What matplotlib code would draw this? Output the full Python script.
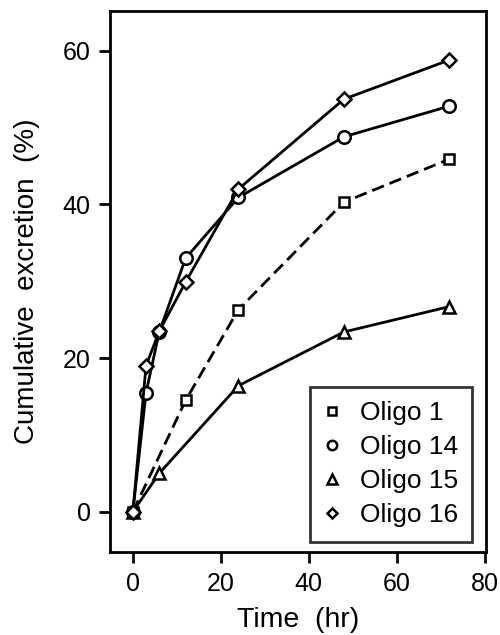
import matplotlib
matplotlib.use("Agg")
import matplotlib.pyplot as plt

plt.rcParams['font.family'] = ['Liberation Sans', 'DejaVu Sans']

t_o1 = [0, 12, 24, 48, 72]
v_o1 = [0, 14.5, 26.3, 40.3, 45.9]
t_o14 = [0, 3, 6, 12, 24, 48, 72]
v_o14 = [0, 15.5, 23.4, 33.0, 40.9, 48.8, 52.8]
t_o15 = [0, 6, 24, 48, 72]
v_o15 = [0, 5.0, 16.4, 23.4, 26.7]
t_o16 = [0, 3, 6, 12, 24, 48, 72]
v_o16 = [0, 19.0, 23.5, 29.9, 42.0, 53.7, 58.8]
labels = ["Oligo 1", "Oligo 14", "Oligo 15", "Oligo 16"]
xticks = [0, 20, 40, 60, 80]
yticks = [0, 20, 40, 60]

fig = plt.figure(figsize=(5, 6.35), dpi=100)
ax = fig.add_axes([0.22, 0.13, 0.752, 0.853])

common = dict(color='black', lw=2.0, mfc='white', mec='black', mew=1.8)
ax.plot(t_o1, v_o1, ls=(0, (4.5, 2.2)), marker='s', ms=7, label=labels[0], **common)
ax.plot(t_o14, v_o14, ls='-', marker='o', ms=9, label=labels[1], **common)
ax.plot(t_o15, v_o15, ls='-', marker='^', ms=9, label=labels[2], **common)
ax.plot(t_o16, v_o16, ls='-', marker='D', ms=7, label=labels[3], **common)

ax.set_xlim(-5.2, 80.3)
ax.set_ylim(-5.3, 65.2)
ax.set_xticks(xticks)
ax.set_yticks(yticks)
ax.tick_params(direction='out', length=8, width=2.0, labelsize=18, pad=6)
for s in ax.spines.values():
    s.set_linewidth(2.0)
ax.set_xlabel("Time  (hr)", fontsize=20.5, labelpad=8)
ax.set_ylabel("Cumulative  excretion  (%)", fontsize=20, labelpad=16)

leg = ax.legend(loc='lower right', bbox_to_anchor=(0.978, 0.01), fontsize=19,
                frameon=True, fancybox=False, edgecolor='black', handlelength=0.6,
                handletextpad=0.75, labelspacing=0.38, borderpad=0.55, markerscale=0.75,
                borderaxespad=0.2)
leg.get_frame().set_linewidth(2.0)
for h in leg.get_lines():
    h.set_linestyle('none')

fig.savefig("out.png", dpi=100)
